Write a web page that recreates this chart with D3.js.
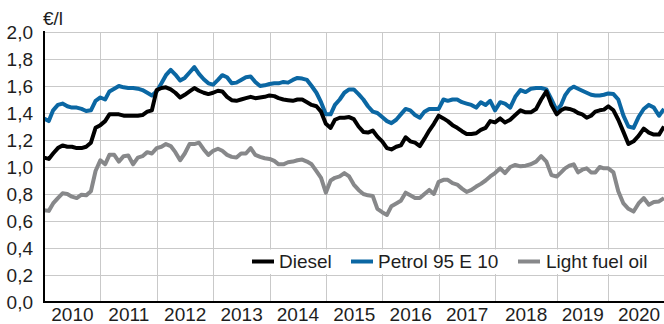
<!DOCTYPE html>
<html>
<head>
<meta charset="utf-8">
<script src="https://cdn.jsdelivr.net/npm/d3@7"></script>
<style>
  body { margin: 0; background: #fff; }
  text { font-family: "Liberation Sans", Arial, Helvetica, sans-serif; }
</style>
</head>
<body>
<svg id="chart" width="664" height="324"></svg>
<script>
// Monthly consumer prices in €/l, January 2010 to December 2020
const yearLabels = [2010, 2011, 2012, 2013, 2014, 2015, 2016, 2017, 2018, 2019, 2020];

const diesel = [
  1.07, 1.06, 1.10, 1.14, 1.16, 1.15, 1.15, 1.14, 1.14, 1.15, 1.18, 1.29,
  1.31, 1.34, 1.39, 1.39, 1.39, 1.38, 1.38, 1.38, 1.38, 1.385, 1.41, 1.42,
  1.57, 1.585, 1.59, 1.575, 1.55, 1.515, 1.535, 1.56, 1.585, 1.565, 1.55, 1.54,
  1.55, 1.565, 1.56, 1.52, 1.495, 1.49, 1.50, 1.51, 1.52, 1.51, 1.515, 1.52,
  1.53, 1.525, 1.51, 1.50, 1.495, 1.49, 1.50, 1.50, 1.48, 1.46, 1.45, 1.41,
  1.32, 1.29, 1.35, 1.365, 1.365, 1.37, 1.355, 1.30, 1.26, 1.255, 1.27, 1.225,
  1.19, 1.14, 1.13, 1.15, 1.16, 1.22, 1.19, 1.18, 1.155, 1.21, 1.27, 1.32,
  1.38, 1.36, 1.34, 1.31, 1.29, 1.265, 1.245, 1.245, 1.25, 1.275, 1.29, 1.34,
  1.33, 1.36, 1.33, 1.35, 1.385, 1.42, 1.405, 1.405, 1.43, 1.50, 1.56, 1.46,
  1.39, 1.42, 1.435, 1.43, 1.42, 1.40, 1.39, 1.365, 1.38, 1.41, 1.42, 1.425,
  1.45, 1.42, 1.35, 1.26, 1.17, 1.19, 1.23, 1.285, 1.255, 1.24, 1.24, 1.30
];

const petrol = [
  1.36, 1.34, 1.42, 1.46, 1.47, 1.45, 1.44, 1.44, 1.43, 1.415, 1.42, 1.49,
  1.515, 1.50, 1.56, 1.58, 1.60, 1.59, 1.585, 1.585, 1.58, 1.57, 1.55, 1.53,
  1.56, 1.62, 1.68, 1.72, 1.685, 1.64, 1.66, 1.70, 1.74, 1.69, 1.65, 1.62,
  1.61, 1.645, 1.68, 1.665, 1.62, 1.625, 1.645, 1.665, 1.67, 1.63, 1.60, 1.605,
  1.615, 1.62, 1.62, 1.63, 1.625, 1.645, 1.66, 1.655, 1.645, 1.60, 1.55, 1.48,
  1.39, 1.39, 1.46, 1.50, 1.55, 1.575, 1.575, 1.54, 1.50, 1.45, 1.41, 1.40,
  1.37, 1.34, 1.325, 1.35, 1.39, 1.43, 1.42, 1.385, 1.365, 1.41, 1.43, 1.43,
  1.43, 1.50, 1.49, 1.50, 1.50, 1.48, 1.47, 1.46, 1.44, 1.48, 1.46, 1.49,
  1.42, 1.48, 1.47, 1.44, 1.52, 1.57, 1.555, 1.58, 1.585, 1.585, 1.575, 1.50,
  1.42, 1.46, 1.53, 1.575, 1.595, 1.58, 1.565, 1.55, 1.535, 1.53, 1.53, 1.535,
  1.545, 1.54, 1.50, 1.38, 1.30, 1.29, 1.37, 1.43, 1.46, 1.44, 1.38, 1.43
];

const lightFuelOil = [
  0.68, 0.675, 0.73, 0.77, 0.805, 0.80, 0.78, 0.77, 0.795, 0.79, 0.82, 0.97,
  1.05, 1.02, 1.09, 1.09, 1.04, 1.08, 1.085, 1.02, 1.07, 1.08, 1.11, 1.10,
  1.14, 1.15, 1.17, 1.155, 1.11, 1.05, 1.10, 1.17, 1.17, 1.18, 1.13, 1.09,
  1.12, 1.135, 1.12, 1.09, 1.075, 1.07, 1.10, 1.10, 1.14, 1.09, 1.075, 1.065,
  1.06, 1.045, 1.02, 1.02, 1.035, 1.04, 1.05, 1.055, 1.04, 1.02, 0.97, 0.92,
  0.81, 0.90, 0.92, 0.93, 0.955, 0.93, 0.87, 0.83, 0.80, 0.79, 0.785, 0.69,
  0.665, 0.645, 0.71, 0.73, 0.75, 0.81, 0.79, 0.77, 0.77, 0.80, 0.83, 0.80,
  0.89, 0.905, 0.905, 0.88, 0.87, 0.84, 0.815, 0.83, 0.855, 0.875, 0.90, 0.93,
  0.955, 0.99, 0.955, 1.00, 1.015, 1.005, 1.01, 1.02, 1.04, 1.08, 1.04, 0.94,
  0.93, 0.96, 0.99, 1.01, 1.02, 0.96, 0.98, 0.99, 0.96, 0.96, 1.00, 0.99,
  0.99, 0.96, 0.82, 0.73, 0.69, 0.67, 0.73, 0.77, 0.72, 0.74, 0.745, 0.77
];

const seriesNames = ["Diesel", "Petrol 95 E 10", "Light fuel oil"];
const yTickValues = [0, 0.2, 0.4, 0.6, 0.8, 1.0, 1.2, 1.4, 1.6, 1.8, 2.0];
const unitLabel = "€/l";

const colors = { "Diesel": "#000000", "Petrol 95 E 10": "#0b67a3", "Light fuel oil": "#87888a" };
const months = diesel.map((_, i) => new Date(2010, i, 1));

const svg = d3.select("#chart");
const plot = { left: 44, right: 664, top: 32, bottom: 302 };

// Year bands on the time axis (2018 and 2019 bands are drawn at their own widths)
const x = d3.scaleTime()
  .domain([new Date(2010, 0, 1), new Date(2018, 0, 1), new Date(2019, 0, 1), new Date(2020, 0, 1), new Date(2020, 11, 1)])
  .range([plot.left, 495, 556.7, 608.3, plot.right]);
const y = d3.scaleLinear().domain([0, 2]).range([plot.bottom, plot.top]);

const locale = d3.formatLocale({ decimal: ",", thousands: ".", grouping: [3], currency: ["", " €"] });
const fmt = locale.format(".1f");

// Grid
const grid = svg.append("g").attr("stroke", "#c9c9c9").attr("stroke-width", 1);
grid.selectAll("line.h").data(yTickValues.filter(v => v > 0)).join("line")
  .attr("class", "h")
  .attr("x1", plot.left).attr("x2", plot.right)
  .attr("y1", d => Math.round(y(d)) + 0.5).attr("y2", d => Math.round(y(d)) + 0.5);
const yearStarts = yearLabels.slice(1).map(yr => new Date(yr, 0, 1));
grid.selectAll("line.v").data(yearStarts).join("line")
  .attr("class", "v")
  .attr("y1", plot.top).attr("y2", plot.bottom)
  .attr("x1", d => Math.round(x(d)) + 0.5).attr("x2", d => Math.round(x(d)) + 0.5);

// Series lines
const line = d3.line().x((d, i) => x(months[i])).y(d => y(d)).curve(d3.curveLinear);
const seriesData = { "Diesel": diesel, "Petrol 95 E 10": petrol, "Light fuel oil": lightFuelOil };
["Light fuel oil", "Petrol 95 E 10", "Diesel"].forEach(name => {
  svg.append("path")
    .datum(seriesData[name])
    .attr("fill", "none")
    .attr("stroke", colors[name])
    .attr("stroke-width", 4)
    .attr("stroke-linejoin", "round")
    .attr("stroke-linecap", "butt")
    .attr("d", line);
});

// Legend box sits between the 0,2 and 0,4 grid lines
const legend = svg.append("g");
legend.append("rect")
  .attr("x", 247).attr("y", y(0.4) + 1.5)
  .attr("width", plot.right - 247).attr("height", y(0.2) - y(0.4) - 2.5)
  .attr("fill", "#fff");
const legendItems = [
  { name: seriesNames[0], sx: 252, tx: 279 },
  { name: seriesNames[1], sx: 351, tx: 378 },
  { name: seriesNames[2], sx: 518, tx: 546 }
];
const ly = (y(0.4) + y(0.2)) / 2;
legendItems.forEach(it => {
  legend.append("line")
    .attr("x1", it.sx).attr("x2", it.sx + 22)
    .attr("y1", ly).attr("y2", ly)
    .attr("stroke", colors[it.name]).attr("stroke-width", 4);
  legend.append("text")
    .attr("x", it.tx).attr("y", ly).attr("dy", "0.35em")
    .attr("font-size", 19).attr("fill", "#1e1e1e")
    .text(it.name);
});

// Axes
const yAxis = d3.axisLeft(y).tickValues(yTickValues).tickFormat(fmt).tickSize(0).tickPadding(11);
const gy = svg.append("g").attr("transform", `translate(${plot.left},0)`).call(yAxis);
gy.select(".domain").remove();
gy.selectAll("text").attr("font-size", 19).attr("fill", "#1e1e1e").attr("font-family", "Liberation Sans, Arial, sans-serif");

const midYears = yearLabels.map(yr => new Date(yr, 6, 1));
const xAxis = d3.axisBottom(x).tickValues(midYears).tickFormat(d => d.getFullYear()).tickSize(0).tickPadding(6);
const gx = svg.append("g").attr("transform", `translate(0,${plot.bottom})`).call(xAxis);
gx.select(".domain").remove();
gx.selectAll("text").attr("font-size", 19).attr("fill", "#1e1e1e").attr("font-family", "Liberation Sans, Arial, sans-serif");

// Axis lines
svg.append("line").attr("x1", plot.left).attr("x2", plot.left).attr("y1", plot.top - 1).attr("y2", plot.bottom + 1)
  .attr("stroke", "#000").attr("stroke-width", 2);
svg.append("line").attr("x1", plot.left - 1).attr("x2", plot.right).attr("y1", plot.bottom).attr("y2", plot.bottom)
  .attr("stroke", "#000").attr("stroke-width", 2);

// Unit label
svg.append("text").attr("x", 43).attr("y", 25).attr("font-size", 19).attr("fill", "#1e1e1e").text(unitLabel);
</script>
</body>
</html>
